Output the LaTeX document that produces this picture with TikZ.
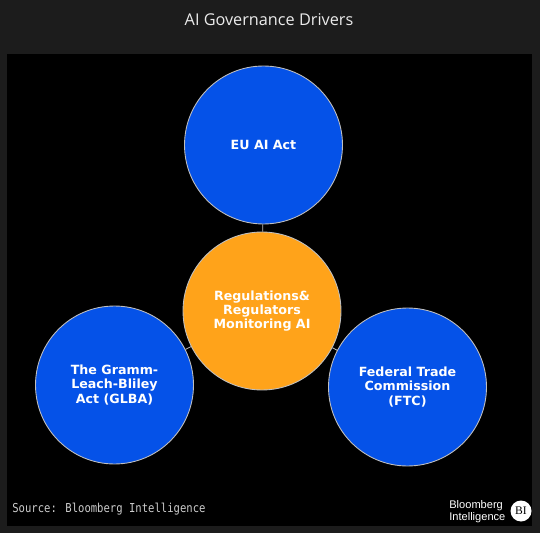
\documentclass[tikz,border=0pt]{standalone}
\usepackage{fontspec}
\setmainfont{DejaVu Sans}
\newfontfamily\titlefont{Open Sans}
\newfontfamily\sourcefont[FakeStretch=0.86]{DejaVu Sans Mono}
\newfontfamily\logofont{Liberation Sans}
\newfontfamily\badgefont{Liberation Serif}
\usepackage{tikz}
\definecolor{framegray}{HTML}{1C1C1C}
\definecolor{driverblue}{HTML}{0552E8}
\definecolor{huborange}{HTML}{FFA31A}
\tikzset{
  driver/.style={circle, draw=white!75!black, line width=0.5pt, fill=driverblue, minimum size=3.16cm,
    inner sep=0pt, text=white, align=center, font=\fontsize{7.2}{8.1}\selectfont\bfseries},
  hub/.style={driver, fill=huborange},
  link/.style={white!75!black, line width=0.5pt},
}
\begin{document}
\begin{tikzpicture}[x=0.02cm, y=-0.02cm]
    \useasboundingbox (0,0) rectangle (540,533);
    % frame and panel
    \fill[framegray] (0,0) rectangle (540,533);
    \fill[black] (7,54) rectangle (532,526);
    \node[text=white!92!black, font=\titlefont\fontsize{9.25}{10}\selectfont] (title) at (269,20)
      {AI Governance Drivers};
    % circles
    \node[driver] (euact) at (263.5,145) {EU AI Act};
    \node[hub] (regulators) at (262,311) {Regulations\&\\Regulators\\Monitoring AI};
    \node[driver] (glba) at (114.5,385) {The Gramm-\\Leach-Bliley\\Act (GLBA)};
    \node[driver] (ftc) at (407.5,387) {Federal Trade\\Commission\\(FTC)};
    % connectors
    \draw[link] (euact) -- (regulators);
    \draw[link] (glba) -- (regulators);
    \draw[link] (ftc) -- (regulators);
    % source and logo
    \node[anchor=west, inner sep=0pt, text=white!80!black, font=\sourcefont\fontsize{7}{8}\selectfont] (source) at (12,509)
      {Source: Bloomberg Intelligence};
    \node[anchor=west, inner sep=0pt, align=left, text=white, font=\logofont\fontsize{6.3}{6.6}\selectfont] (logo) at (449,511.5)
      {Bloomberg\\Intelligence};
    \node[circle, fill=white, inner sep=0pt, minimum size=0.42cm, text=black, font=\badgefont\fontsize{6.6}{7}\selectfont] (badge) at (521,511) {BI};
\end{tikzpicture}
\end{document}
